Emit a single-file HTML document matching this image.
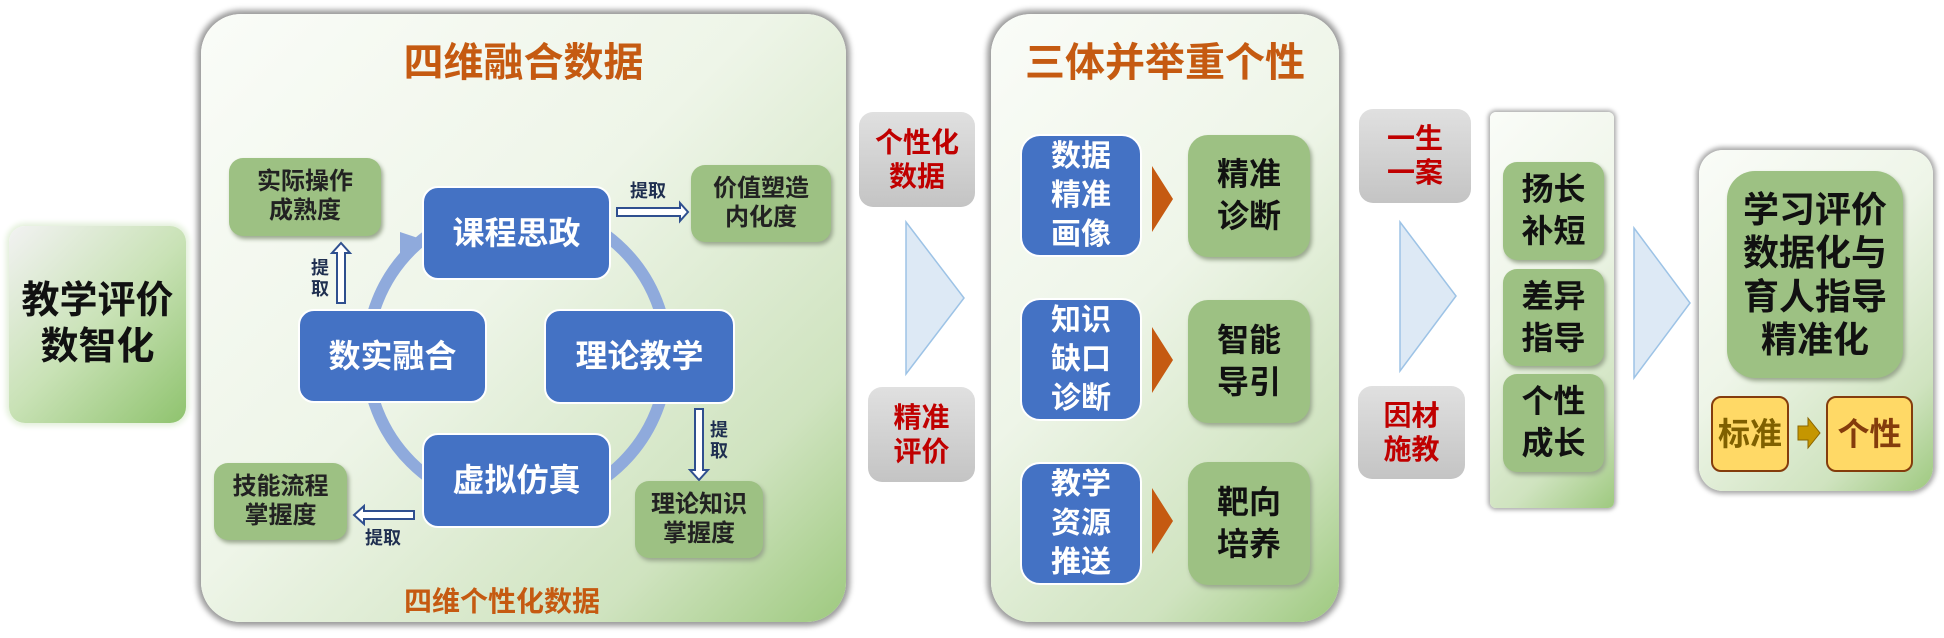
<!DOCTYPE html>
<html><head><meta charset="utf-8"><style>
*{margin:0;padding:0;box-sizing:border-box}
body{width:1944px;height:638px;background:#fff;position:relative;overflow:hidden;font-family:"Liberation Sans","Noto Sans CJK SC",sans-serif;font-weight:bold}
.a{position:absolute;display:flex;align-items:center;justify-content:center;text-align:center;line-height:1.2}
.panel{border-radius:40px;background:linear-gradient(135deg,#fafcf8 0%,#eef5e8 45%,#cfe3bf 80%,#9ec97f 100%);box-shadow:0 0 6px 4px #9a9a9a}
.blue{background:#4472c4;color:#fff;border-radius:16px;border:2px solid #fff}
.green{background:#9dc183;color:#222;border-radius:14px;box-shadow:2px 3px 4px #9aa88e}
.gray{background:linear-gradient(180deg,#e0e0e0,#c4c4c4);border-radius:14px;color:#c00000;font-size:28px}
.lbl{position:absolute;color:#1f2f50;font-size:18px;line-height:1.15}
.yel{background:#ffd966;border:2px solid #843c0c;border-radius:10px;font-size:32px}
</style></head><body>

<div class="a green" style="left:9px;top:226px;width:177px;height:197px;border-radius:16px;background:linear-gradient(135deg,#f2f2f2,#c9e2b6 50%,#8fc36e);font-size:38px;color:#111;box-shadow:0 0 6px 3px #e3f0da">教学评价<br>数智化</div>

<div class="panel" style="position:absolute;left:201px;top:14px;width:645px;height:608px"></div>
<div style="position:absolute;left:201px;top:30px;width:645px;text-align:center;color:#c55a11;font-size:40px">四维融合数据</div>
<div style="position:absolute;left:201px;top:580px;width:602px;text-align:center;color:#c55a11;font-size:28px">四维个性化数据</div>

<svg style="position:absolute;left:0;top:0" width="1944" height="638">
<circle cx="517" cy="356" r="150" fill="none" stroke="#8faadc" stroke-width="12"/>
<polygon points="400,232 424,240 400,262" fill="#8faadc"/>
<g fill="#fff" stroke="#2f4f8f" stroke-width="2">
<polygon points="617,208 680,208 680,203 688,212 680,221 680,216 617,216"/>
<polygon points="337,303 337,253 332,253 341,243 350,253 345,253 345,303"/>
<polygon points="695,409 703,409 703,470 708,470 699,480 690,470 695,470"/>
<polygon points="414,511 364,511 364,506 354,515 364,524 364,519 414,519"/>
</g>
<g fill="#dde9f5" stroke="#9dc3e6" stroke-width="1.5">
<polygon points="906,222 964,298 906,374 906,222"/>
<polygon points="1400,222 1456,296 1400,371"/>
<polygon points="1634,228 1690,303 1634,378"/>
</g>
</svg>

<div class="a green" style="left:229px;top:158px;width:152px;height:78px;font-size:24px">实际操作<br>成熟度</div>
<div class="a green" style="left:691px;top:165px;width:140px;height:77px;font-size:24px">价值塑造<br>内化度</div>
<div class="a green" style="left:214px;top:463px;width:133px;height:77px;font-size:24px">技能流程<br>掌握度</div>
<div class="a green" style="left:635px;top:481px;width:128px;height:77px;font-size:24px">理论知识<br>掌握度</div>

<div class="a blue" style="left:422px;top:186px;width:189px;height:94px;font-size:32px">课程思政</div>
<div class="a blue" style="left:298px;top:309px;width:189px;height:94px;font-size:32px">数实融合</div>
<div class="a blue" style="left:544px;top:309px;width:191px;height:95px;font-size:32px">理论教学</div>
<div class="a blue" style="left:422px;top:433px;width:189px;height:95px;font-size:32px">虚拟仿真</div>

<div class="lbl" style="left:630px;top:181px">提取</div>
<div class="lbl" style="left:311px;top:258px">提<br>取</div>
<div class="lbl" style="left:710px;top:420px">提<br>取</div>
<div class="lbl" style="left:365px;top:528px">提取</div>

<div class="a gray" style="left:859px;top:112px;width:116px;height:95px">个性化<br>数据</div>
<div class="a gray" style="left:868px;top:387px;width:107px;height:95px">精准<br>评价</div>

<div class="panel" style="position:absolute;left:991px;top:14px;width:348px;height:608px"></div>
<div style="position:absolute;left:991px;top:30px;width:348px;text-align:center;color:#c55a11;font-size:40px">三体并举重个性</div>

<div class="a blue" style="left:1020px;top:134px;width:122px;height:123px;font-size:30px;border-radius:20px;line-height:1.3">数据<br>精准<br>画像</div>
<div class="a blue" style="left:1020px;top:298px;width:122px;height:123px;font-size:30px;border-radius:20px;line-height:1.3">知识<br>缺口<br>诊断</div>
<div class="a blue" style="left:1020px;top:462px;width:122px;height:123px;font-size:30px;border-radius:20px;line-height:1.3">教学<br>资源<br>推送</div>
<div class="a green" style="left:1188px;top:135px;width:122px;height:122px;font-size:32px;border-radius:20px;color:#111;line-height:1.3">精准<br>诊断</div>
<div class="a green" style="left:1188px;top:300px;width:122px;height:123px;font-size:32px;border-radius:20px;color:#111;line-height:1.3">智能<br>导引</div>
<div class="a green" style="left:1188px;top:462px;width:122px;height:123px;font-size:32px;border-radius:20px;color:#111;line-height:1.3">靶向<br>培养</div>

<div class="a gray" style="left:1359px;top:109px;width:112px;height:94px">一生<br>一案</div>
<div class="a gray" style="left:1358px;top:386px;width:107px;height:93px">因材<br>施教</div>

<div class="panel" style="position:absolute;left:1490px;top:112px;width:124px;height:396px;border-radius:6px;box-shadow:0 0 4px 2px #aaa"></div>
<div class="a green" style="left:1503px;top:162px;width:101px;height:98px;font-size:32px;color:#111;line-height:1.3">扬长<br>补短</div>
<div class="a green" style="left:1503px;top:269px;width:101px;height:97px;font-size:32px;color:#111;line-height:1.3">差异<br>指导</div>
<div class="a green" style="left:1503px;top:374px;width:101px;height:98px;font-size:32px;color:#111;line-height:1.3">个性<br>成长</div>

<div class="panel" style="position:absolute;left:1699px;top:150px;width:234px;height:341px;border-radius:24px;box-shadow:0 0 5px 3px #aaa"></div>
<div class="a green" style="left:1727px;top:171px;width:176px;height:207px;font-size:36px;color:#111;border-radius:28px;line-height:1.2">学习评价<br>数据化与<br>育人指导<br>精准化</div>
<div class="a yel" style="left:1711px;top:396px;width:78px;height:76px;color:#7f6000">标准</div>
<div class="a yel" style="left:1826px;top:396px;width:87px;height:76px;color:#843c0c">个性</div>

<svg style="position:absolute;left:0;top:0" width="1944" height="638">
<g fill="#c55a11">
<polygon points="1152,166 1173,199 1152,232"/>
<polygon points="1152,327 1173,360 1152,393"/>
<polygon points="1152,488 1173,521 1152,554"/>
</g>
<polygon points="1798,426 1808,426 1808,418 1820,433 1808,448 1808,440 1798,440" fill="#c59600" stroke="#8a6500" stroke-width="1"/>
</svg>
</body></html>
